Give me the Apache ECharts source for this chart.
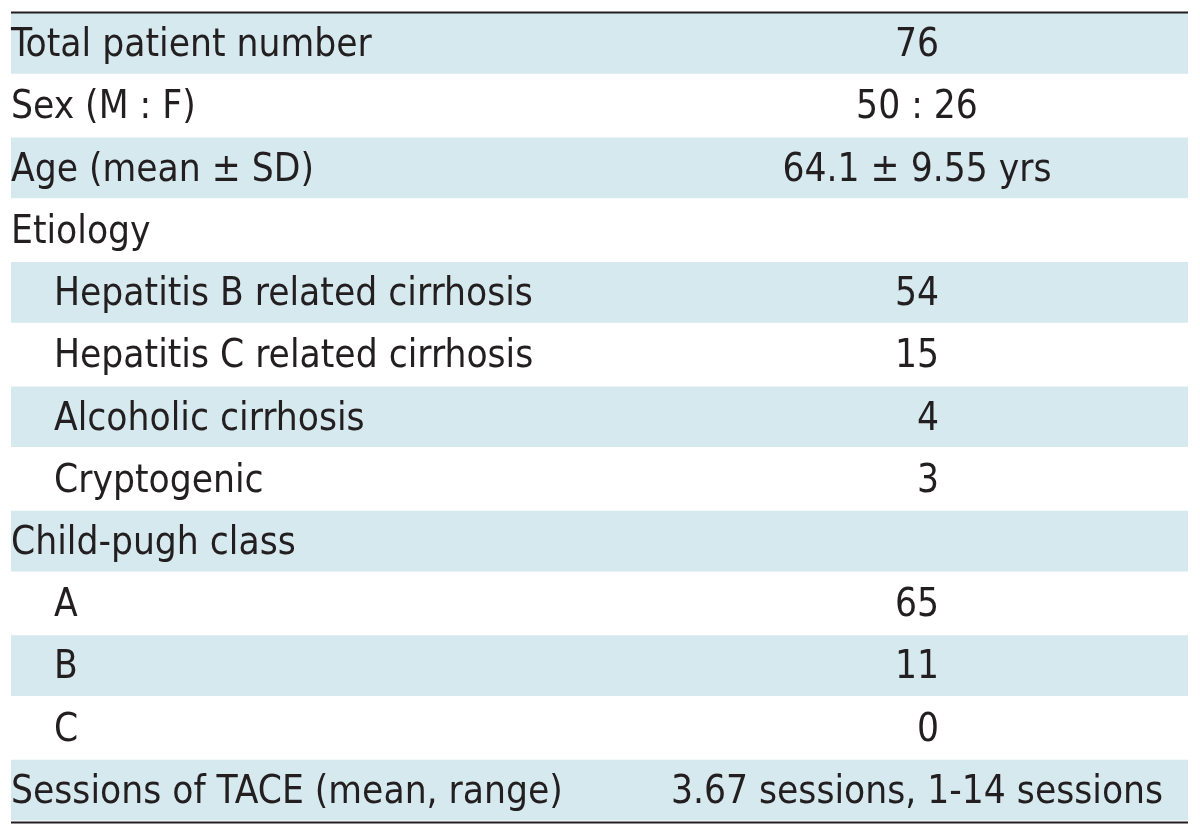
<!DOCTYPE html><html><head><meta charset="utf-8"><script src="https://cdn.jsdelivr.net/npm/echarts@6/dist/echarts.min.js"></script></head><body style="margin:0;background:#fff"><div id="c" style="width:1200px;height:836px"></div><script>
// ---- data ----
var labels = ["Total patient number","Sex (M : F)","Age (mean ± SD)","Etiology","Hepatitis B related cirrhosis","Hepatitis C related cirrhosis","Alcoholic cirrhosis","Cryptogenic","Child-pugh class","A","B","C","Sessions of TACE (mean, range)"];
var values = ["76","50 : 26","64.1 ± 9.55 yrs","","54","15","4","3","","65","11","0","3.67 sessions, 1-14 sessions"];
var indentLevel = [0,0,0,0,1,1,1,1,0,1,1,1,0];
// ---- chart ----
var FONT = '"DejaVu Sans Condensed", "DejaVu Sans", sans-serif';
var FS = 38.5;
var INK = '#231f20';
var SHADE = '#d6e9ee';
var X0 = 11, X1 = 1188, XC = 917, XR = 939;
var n = labels.length;
var rows = labels.map(function(l,i){return [i, l, values[i], indentLevel[i]];});
var ch = echarts.init(document.getElementById('c'), null, {renderer:'canvas'});
ch.setOption({
  animation:false,
  grid:{left:0,right:0,top:13,bottom:14},
  xAxis:{type:'value',min:0,max:1200,show:false},
  yAxis:{type:'category',inverse:true,data:labels.map(function(_,i){return i;}),show:false},
  series:[{
    type:'custom',
    data:rows,
    encode:{y:0},
    renderItem:function(params, api){
      var i = api.value(0);
      var c = api.coord([0, i]);
      var h = api.size([0, 1])[1];
      var yTop = c[1] - h/2, yBot = c[1] + h/2;
      var xl = api.coord([X0, i])[0], xr = api.coord([X1, i])[0];
      var kids = [];
      if (i % 2 === 0) {
        kids.push({type:'rect',shape:{x:xl,y:yTop,width:xr-xl,height:h-1.5},style:{fill:SHADE}});
      }
      var lab = rows[i][1], val = rows[i][2], ind = rows[i][3];
      var ty = c[1] + 2;
      kids.push({type:'text',style:{text:lab,x:api.coord([ind ? 54 : 11, i])[0],y:ty,font:FS+'px '+FONT,fill:INK,align:'left',verticalAlign:'middle'}});
      if (val) {
        var isInt = /^\d+$/.test(val);
        kids.push({type:'text',style:{text:val,x:api.coord([isInt ? XR : XC, i])[0],y:ty,font:FS+'px '+FONT,fill:INK,align:isInt?'right':'center',verticalAlign:'middle'}});
      }
      if (i === 0) kids.push({type:'line',shape:{x1:xl,y1:yTop-0.5,x2:xr,y2:yTop-0.5},style:{stroke:INK,lineWidth:2}});
      if (i === n-1) kids.push({type:'line',shape:{x1:xl,y1:yBot+0.5,x2:xr,y2:yBot+0.5},style:{stroke:INK,lineWidth:2}});
      return {type:'group',children:kids};
    }
  }]
});
</script></body></html>
